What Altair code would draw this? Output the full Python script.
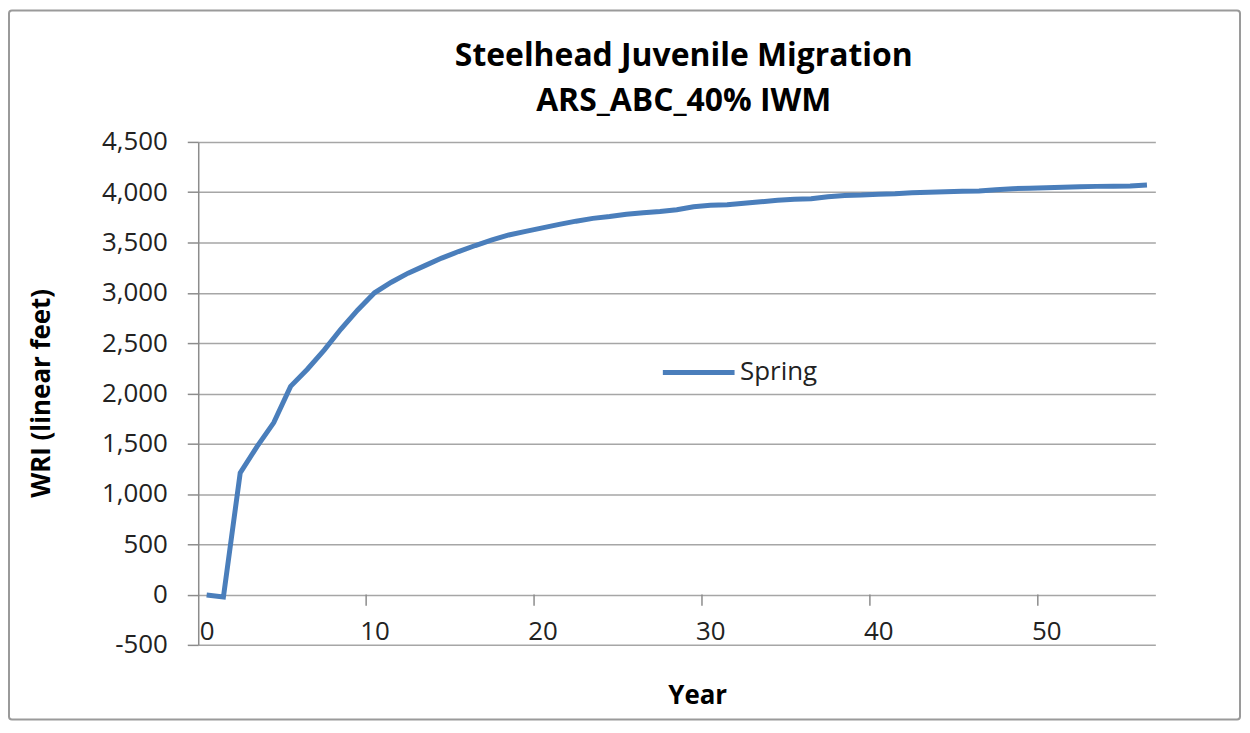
import altair as alt
import pandas as pd

# ---- data ----
years = list(range(57))
spring = [-5, -25, 1210, 1470, 1710, 2070, 2240, 2430, 2640, 2830, 3000,
          3105, 3195, 3270, 3345, 3410, 3470, 3525, 3575, 3610, 3645,
          3680, 3712, 3740, 3758, 3780, 3795, 3808, 3825, 3855, 3870,
          3875, 3890, 3905, 3920, 3930, 3935, 3955, 3968, 3972, 3980,
          3985, 3995, 4000, 4005, 4010, 4012, 4025, 4035, 4040, 4045,
          4050, 4055, 4058, 4060, 4062, 4072]
series_name = "Spring"
x_label_values = [0, 10, 20, 30, 40, 50]
x_tick_positions = [9.5, 19.5, 29.5, 39.5, 49.5]
y_tick_values = [-500, 0, 500, 1000, 1500, 2000, 2500, 3000, 3500, 4000, 4500]
title_lines = ["Steelhead Juvenile Migration", "ARS_ABC_40% IWM"]

df = pd.DataFrame({"Year": years, "WRI": spring, "Series": [series_name] * len(years)})
ticks_df = pd.DataFrame({"Year": x_tick_positions})
frame_df = pd.DataFrame({"k": [0]})

FONT = "Open Sans"
GRID = "#a6a6a6"
AXIS = "#8c8c8c"
LINE = "#4A7EBB"

x_scale = alt.Scale(domain=[-0.5, 56.5], nice=False, zero=False)
y_scale = alt.Scale(domain=[-500, 4500], nice=False, zero=False)

frame = alt.Chart(frame_df).mark_rect(
    fill="white", fillOpacity=0, stroke="#9a9a9a", strokeWidth=2, cornerRadius=3
).encode(
    x=alt.value(-190), x2=alt.value(1046), y=alt.value(-132), y2=alt.value(580)
)

line = alt.Chart(df).mark_line(strokeWidth=5).encode(
    x=alt.X(
        "Year:Q", scale=x_scale,
        axis=alt.Axis(
            values=x_label_values, title="Year", grid=False, ticks=False, domain=False,
            labelPadding=-26, labelFlush=False, labelFontSize=26, labelFont=FONT,
            labelColor="#222222", titleFontSize=26, titleFont=FONT,
            titleFontWeight="bold", titleColor="black", titleX=501, titleY=51,
            titleBaseline="middle",
        ),
    ),
    y=alt.Y(
        "WRI:Q", scale=y_scale,
        axis=alt.Axis(
            values=y_tick_values, title="WRI (linear feet)",
            labelExpr="replace(format(datum.value, ','), '\u2212', '-')",
            grid=True, gridColor=GRID, gridWidth=1.5,
            tickSize=11, tickColor=AXIS, tickWidth=1.5,
            domainColor=AXIS, domainWidth=1.5,
            labelPadding=20, labelFontSize=26, labelFont=FONT, labelColor="#222222",
            titleFontSize=26, titleFont=FONT, titleFontWeight="bold", titleColor="black",
            titleX=-157, titleY=252, titleAngle=270, titleBaseline="middle",
        ),
    ),
    color=alt.Color(
        "Series:N",
        scale=alt.Scale(domain=[series_name], range=[LINE]),
        legend=alt.Legend(
            title=None, orient="none", legendX=464, legendY=193,
            symbolType="stroke", symbolSize=5184, symbolStrokeWidth=5,
            labelFontSize=26, labelFont=FONT, labelColor="#222222",
            labelOffset=3, padding=0,
        ),
    ),
)

xticks = alt.Chart(ticks_df).mark_rule(color=AXIS, strokeWidth=1.5).encode(
    x=alt.X("Year:Q", scale=x_scale),
    y=alt.datum(0),
    y2=alt.datum(-110),
)

chart = alt.layer(frame, line, xticks).properties(
    width=961,
    height=505,
    autosize=alt.AutoSizeParams(type="none"),
    padding={"left": 191, "top": 133, "right": 87, "bottom": 78},
    title=alt.TitleParams(
        text=title_lines, fontSize=32, font=FONT, fontWeight="bold", color="black",
        lineHeight=45, offset=0, dy=109, dx=7, anchor="middle", frame="group",
    ),
    background="white",
).configure_view(strokeWidth=0)

chart.save("out.html", embed_options={"renderer": "svg", "actions": False})
